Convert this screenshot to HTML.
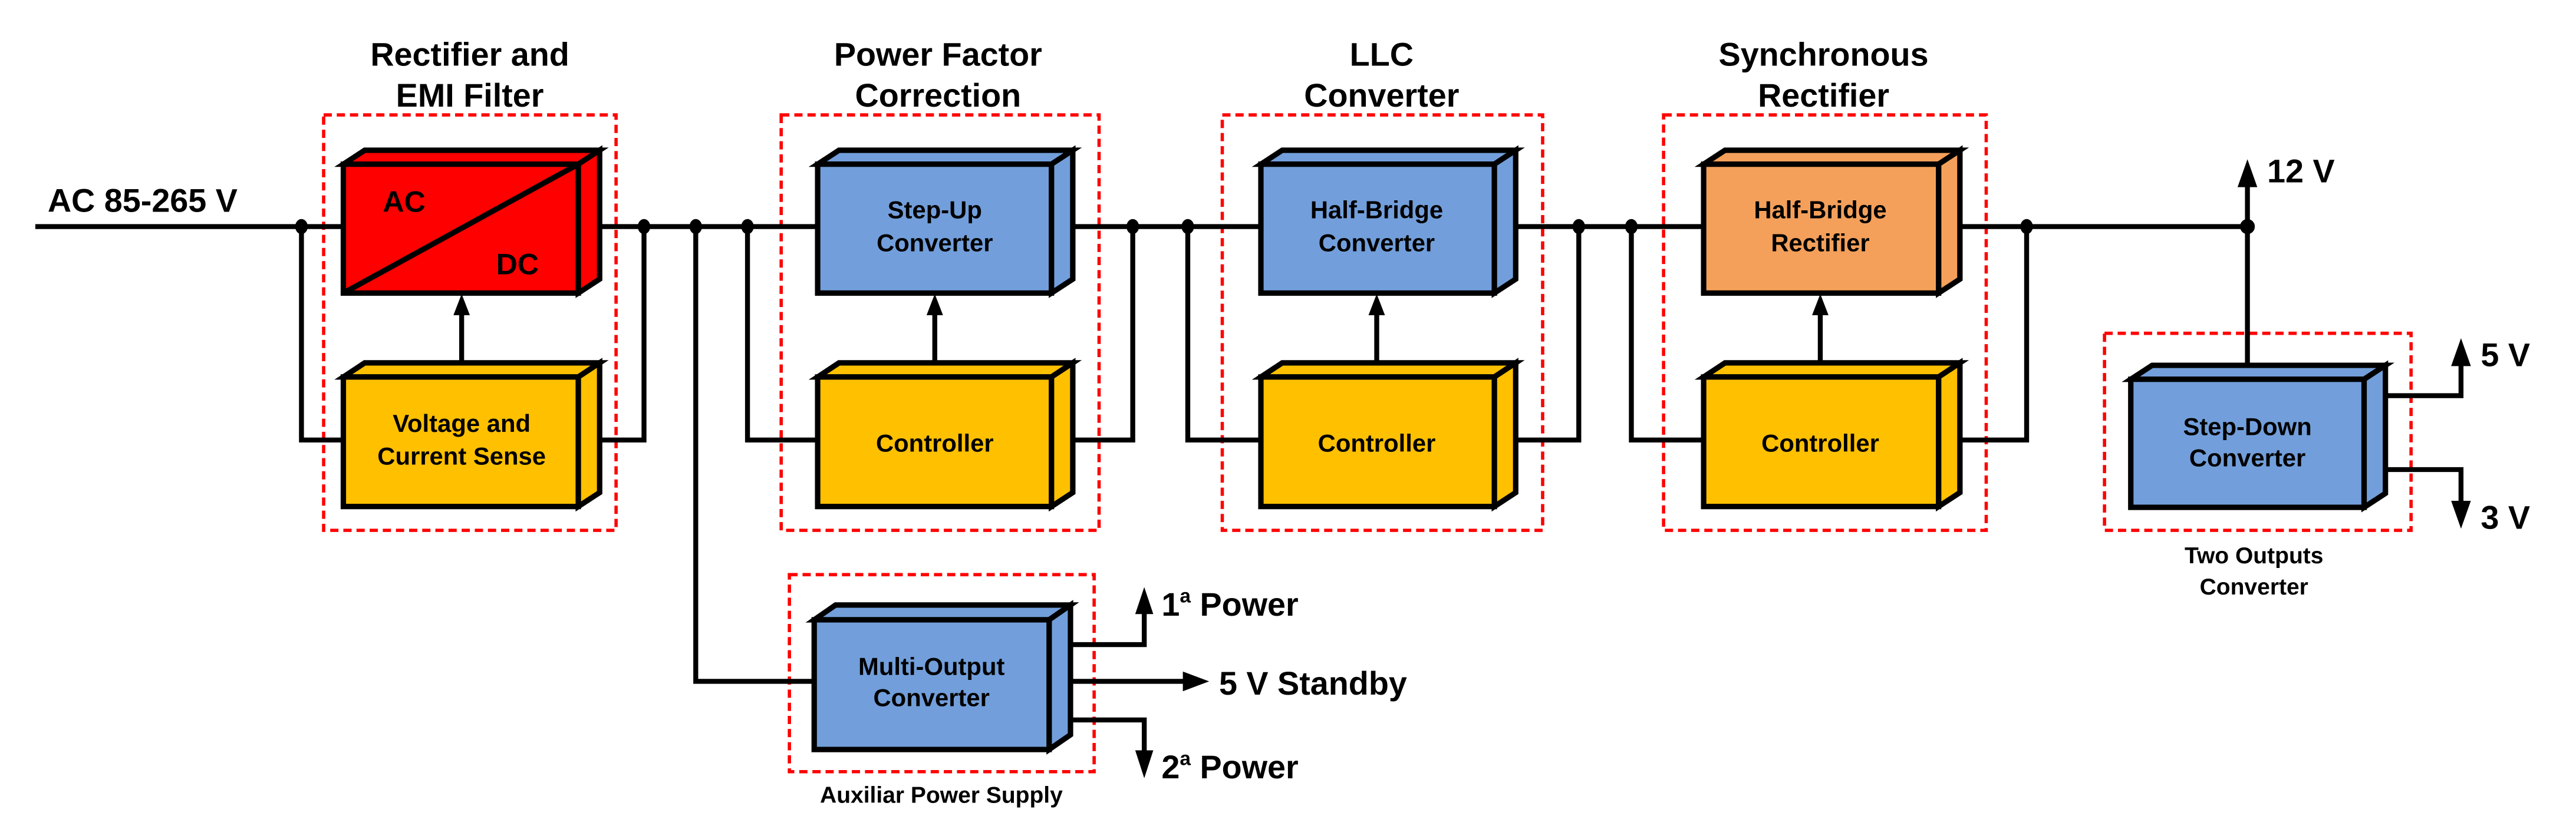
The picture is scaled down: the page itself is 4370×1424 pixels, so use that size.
<!DOCTYPE html>
<html><head><meta charset="utf-8"><style>
html,body{margin:0;padding:0;background:#fff;}
svg{display:block;}
text{font-family:"Liberation Sans",Arial,sans-serif;font-weight:bold;fill:#000;}
</style></head><body>
<svg width="4370" height="1424" viewBox="0 0 1568 511" preserveAspectRatio="none" xmlns="http://www.w3.org/2000/svg">
<rect x="0" y="0" width="1568" height="511" fill="#fff"/>

<g fill="none" stroke="#FF0000" stroke-width="2" stroke-dasharray="5,3">
<rect x="197" y="70" width="178" height="253"/>
<rect x="475.5" y="70" width="193.5" height="253"/>
<rect x="744" y="70" width="195" height="253"/>
<rect x="1012.6" y="70" width="196.4" height="253"/>
<rect x="1281" y="203" width="186.6" height="120"/>
<rect x="480.5" y="350" width="185.5" height="120"/>
</g>

<g fill="none" stroke="#000" stroke-width="3" stroke-linejoin="miter" stroke-linecap="square">
<line x1="23" y1="138" x2="1368" y2="138"/>
<polyline points="183.5,138 183.5,268 209,268"/>
<polyline points="352,268 392,268 392,138"/>
<polyline points="423.5,138 423.5,415 496,415"/>
<polyline points="455,138 455,268 498,268"/>
<polyline points="640,268 689.5,268 689.5,138"/>
<polyline points="723,138 723,268 767.5,268"/>
<polyline points="909.6,268 961,268 961,138"/>
<polyline points="993,138 993,268 1037,268"/>
<polyline points="1180,268 1233.6,268 1233.6,138"/>
<line x1="1368" y1="110" x2="1368" y2="222"/>
<polyline points="1452,241 1498,241 1498,220"/>
<polyline points="1452,286 1498,286 1498,308"/>
<polyline points="651,392.6 696.5,392.6 696.5,371"/>
<line x1="651" y1="415" x2="722" y2="415"/>
<polyline points="651,438.5 696.5,438.5 696.5,460"/>
<line x1="281" y1="221" x2="281" y2="190"/>
<line x1="569" y1="221" x2="569" y2="190"/>
<line x1="838" y1="221" x2="838" y2="190"/>
<line x1="1108" y1="221" x2="1108" y2="190"/>
</g>

<g fill="#000">
<polygon points="281,179 276,192 286,192"/>
<polygon points="569,179 564,192 574,192"/>
<polygon points="838,179 833,192 843,192"/>
<polygon points="1108,179 1103,192 1113,192"/>
<polygon points="1368,97 1362,114 1374,114"/>
<polygon points="1498,206 1492,223 1504,223"/>
<polygon points="1498,322 1492,305 1504,305"/>
<polygon points="696.5,357.6 691,374 702,374"/>
<polygon points="696.5,474 691,457 702,457"/>
<polygon points="736,415 720,409 720,421"/>
</g>

<g fill="#000">
<ellipse cx="183.5" cy="138" rx="3.8" ry="4.6"/>
<ellipse cx="392" cy="138" rx="3.8" ry="4.6"/>
<ellipse cx="423.5" cy="138" rx="3.8" ry="4.6"/>
<ellipse cx="455" cy="138" rx="3.8" ry="4.6"/>
<ellipse cx="689.5" cy="138" rx="3.8" ry="4.6"/>
<ellipse cx="723" cy="138" rx="3.8" ry="4.6"/>
<ellipse cx="961" cy="138" rx="3.8" ry="4.6"/>
<ellipse cx="993" cy="138" rx="3.8" ry="4.6"/>
<ellipse cx="1233.6" cy="138" rx="3.8" ry="4.6"/>
<ellipse cx="1368" cy="138" rx="4.5" ry="4.6"/>
</g>

<g stroke="#000" stroke-width="3.3" stroke-linejoin="miter">
<g fill="#FF0000">
<polygon points="209,100 222,91.5 365,91.5 352,100"/>
<polygon points="352,100 365,91.5 365,170 352,178.5"/>
<rect x="209" y="100" width="143" height="78.5"/>
</g>
<line x1="209" y1="178.5" x2="352" y2="100"/>
<g fill="#FFC000">
<polygon points="209,229.6 222,221 365,221 352,229.6"/>
<polygon points="352,229.6 365,221 365,300 352,308.5"/>
<rect x="209" y="229.6" width="143" height="78.9"/>
</g>
<g fill="#729FDB">
<polygon points="497.7,100 510.7,91.5 653,91.5 640,100"/>
<polygon points="640,100 653,91.5 653,170 640,178.5"/>
<rect x="497.7" y="100" width="142.3" height="78.5"/>
</g>
<g fill="#FFC000">
<polygon points="497.7,229.6 510.7,221 653,221 640,229.6"/>
<polygon points="640,229.6 653,221 653,300 640,308.5"/>
<rect x="497.7" y="229.6" width="142.3" height="78.9"/>
</g>
<g fill="#729FDB">
<polygon points="767.5,100 780.5,91.5 922.6,91.5 909.6,100"/>
<polygon points="909.6,100 922.6,91.5 922.6,170 909.6,178.5"/>
<rect x="767.5" y="100" width="142.1" height="78.5"/>
</g>
<g fill="#FFC000">
<polygon points="767.5,229.6 780.5,221 922.6,221 909.6,229.6"/>
<polygon points="909.6,229.6 922.6,221 922.6,300 909.6,308.5"/>
<rect x="767.5" y="229.6" width="142.1" height="78.9"/>
</g>
<g fill="#F4A05A">
<polygon points="1037,100 1050,91.5 1193,91.5 1180,100"/>
<polygon points="1180,100 1193,91.5 1193,170 1180,178.5"/>
<rect x="1037" y="100" width="143" height="78.5"/>
</g>
<g fill="#FFC000">
<polygon points="1037,229.6 1050,221 1193,221 1180,229.6"/>
<polygon points="1180,229.6 1193,221 1193,300 1180,308.5"/>
<rect x="1037" y="229.6" width="143" height="78.9"/>
</g>
<g fill="#729FDB">
<polygon points="1297,231 1310,222.5 1452,222.5 1439,231"/>
<polygon points="1439,231 1452,222.5 1452,300.5 1439,309"/>
<rect x="1297" y="231" width="142" height="78"/>
</g>
<g fill="#729FDB">
<polygon points="495.6,377.5 508.6,368.5 651.6,368.5 638.6,377.5"/>
<polygon points="638.6,377.5 651.6,368.5 651.6,447.5 638.6,456.5"/>
<rect x="495.6" y="377.5" width="143" height="79"/>
</g>
</g>

<g font-size="20" text-anchor="middle">
<text x="286" y="40">Rectifier and</text>
<text x="286" y="65">EMI Filter</text>
<text x="571" y="40">Power Factor</text>
<text x="571" y="65">Correction</text>
<text x="841" y="40">LLC</text>
<text x="841" y="65">Converter</text>
<text x="1110" y="40">Synchronous</text>
<text x="1110" y="65">Rectifier</text>
</g>
<text x="29" y="129" font-size="20">AC 85-265 V</text>
<text x="1380" y="111" font-size="20">12 V</text>
<text x="1510" y="223" font-size="20">5 V</text>
<text x="1510" y="322" font-size="20">3 V</text>
<text x="707" y="375" font-size="20">1<tspan font-size="12" dy="-8">a</tspan><tspan dy="8"> Power</tspan></text>
<text x="742" y="423" font-size="20">5 V Standby</text>
<text x="707" y="474" font-size="20">2<tspan font-size="12" dy="-8">a</tspan><tspan dy="8"> Power</tspan></text>

<g font-size="15" text-anchor="middle">
<text x="281" y="263">Voltage and</text>
<text x="281" y="283">Current Sense</text>
<text x="569" y="133">Step-Up</text>
<text x="569" y="153">Converter</text>
<text x="569" y="275">Controller</text>
<text x="838" y="133">Half-Bridge</text>
<text x="838" y="153">Converter</text>
<text x="838" y="275">Controller</text>
<text x="1108" y="133">Half-Bridge</text>
<text x="1108" y="153">Rectifier</text>
<text x="1108" y="275">Controller</text>
<text x="1368" y="265">Step-Down</text>
<text x="1368" y="284">Converter</text>
<text x="567" y="411">Multi-Output</text>
<text x="567" y="430">Converter</text>
<text x="1372" y="343" font-size="14">Two Outputs</text>
<text x="1372" y="362" font-size="14">Converter</text>
<text x="573" y="489" font-size="14">Auxiliar Power Supply</text>
</g>
<text x="233" y="129" font-size="18">AC</text>
<text x="302" y="167" font-size="18">DC</text>
</svg>
</body></html>
